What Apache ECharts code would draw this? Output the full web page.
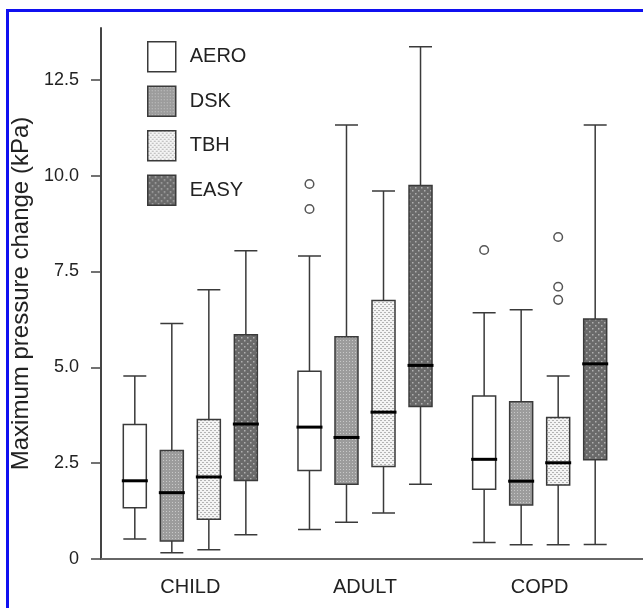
<!DOCTYPE html>
<html><head><meta charset="utf-8">
<script src="https://cdn.jsdelivr.net/npm/echarts@6/dist/echarts.min.js"></script>
<style>html,body{margin:0;padding:0;background:#fff}#c{width:643px;height:608px}</style>
</head><body><div id="c"></div>
<script>
// ---- data ----
const categories = ['CHILD', 'ADULT', 'COPD'];
const seriesNames = ['AERO', 'DSK', 'TBH', 'EASY'];
// [lower whisker, Q1, median, Q3, upper whisker] per category
const aeroBox = [[0.52, 1.34, 2.04, 3.51, 4.77], [0.77, 2.31, 3.44, 4.90, 7.90], [0.43, 1.82, 2.60, 4.25, 6.42]];
const dskBox  = [[0.16, 0.47, 1.73, 2.83, 6.14], [0.96, 1.95, 3.17, 5.80, 11.32], [0.37, 1.41, 2.03, 4.10, 6.50]];
const tbhBox  = [[0.24, 1.04, 2.14, 3.64, 7.02], [1.20, 2.41, 3.83, 6.74, 9.60], [0.37, 1.93, 2.51, 3.69, 4.77]];
const easyBox = [[0.63, 2.05, 3.52, 5.85, 8.04], [1.95, 3.98, 5.05, 9.74, 13.36], [0.38, 2.59, 5.09, 6.26, 11.32]];
const aeroOutliers = [['ADULT', 9.78], ['ADULT', 9.13], ['COPD', 8.06]];
const dskOutliers = [];
const tbhOutliers = [['COPD', 8.40], ['COPD', 7.10], ['COPD', 6.76]];
const easyOutliers = [];
const yTicks = [0, 2.5, 5, 7.5, 10, 12.5];

const boxes = [aeroBox, dskBox, tbhBox, easyBox];
const outliers = [aeroOutliers, dskOutliers, tbhOutliers, easyOutliers];

// ---- fill patterns ----
function makePattern(size, bg, dots, dotColor, dotSize) {
  const c = document.createElement('canvas');
  c.width = c.height = size;
  const g = c.getContext('2d');
  g.fillStyle = bg; g.fillRect(0, 0, size, size);
  g.fillStyle = dotColor;
  dots.forEach(d => g.fillRect(d[0], d[1], dotSize, dotSize));
  return { image: c, repeat: 'repeat' };
}
const fills = [
  '#ffffff',
  makePattern(3, '#9c9c9c', [[1, 1]], '#c8c8c8', 1),
  makePattern(4, '#f4f4f4', [[0, 0], [2, 2], [1, 0], [3, 2]], '#b4b4b4', 1),
  makePattern(6, '#6a6a6a', [[1, 1], [4, 4]], '#b0b0b0', 1.5)
];
const borderColor = '#3a3a3a';

function boxOffset(idx, band, n) {
  const avail = band * 0.8 - 2;
  const gap = avail / n * 0.3;
  const w = (avail - gap * (n - 1)) / n;
  return w / 2 - avail / 2 + idx * (gap + w);
}

const medianData = [];
boxes.forEach((b, s) => b.forEach((row, i) => medianData.push([i, row[2], s])));
const outlierData = [];
outliers.forEach((list, s) => list.forEach(o => outlierData.push([categories.indexOf(o[0]), o[1], s])));

const font = "'Liberation Sans', Arial, sans-serif";

const series = seriesNames.map((name, s) => ({
  name: name,
  type: 'boxplot',
  data: boxes[s],
  boxWidth: [23, 23],
  itemStyle: { color: fills[s], borderColor: borderColor, borderWidth: 1.5 },
  emphasis: { disabled: true },
  z: 2
}));

series.push({
  type: 'custom',
  name: 'median',
  data: medianData,
  encode: { x: 0, y: 1 },
  z: 4,
  renderItem: function (params, api) {
    const p = api.coord([api.value(0), api.value(1)]);
    const band = api.size([1, 0])[0];
    const x = p[0] + boxOffset(api.value(2), band, 4);
    return { type: 'line', shape: { x1: x - 13, y1: p[1], x2: x + 13, y2: p[1] },
      style: { stroke: '#000', lineWidth: 3 } };
  }
});
series.push({
  type: 'custom',
  name: 'outliers',
  data: outlierData,
  encode: { x: 0, y: 1 },
  z: 4,
  renderItem: function (params, api) {
    const p = api.coord([api.value(0), api.value(1)]);
    const band = api.size([1, 0])[0];
    const x = p[0] + boxOffset(api.value(2), band, 4);
    return { type: 'circle', shape: { cx: x, cy: p[1], r: 4.3 },
      style: { fill: '#fff', stroke: '#555', lineWidth: 1.5 } };
  }
});

const chart = echarts.init(document.getElementById('c'));
chart.setOption({
  animation: false,
  backgroundColor: '#fff',
  textStyle: { fontFamily: font },
  graphic: [
    { type: 'line', shape: { x1: 6, y1: 10.5, x2: 643, y2: 10.5 }, style: { stroke: '#1010f0', lineWidth: 3 } },
    { type: 'line', shape: { x1: 7.5, y1: 9, x2: 7.5, y2: 608 }, style: { stroke: '#1010f0', lineWidth: 3 } }
  ],
  legend: {
    orient: 'vertical', left: 147, top: 41, padding: 0,
    itemWidth: 28, itemHeight: 30, itemGap: 13,
    icon: 'rect',
    textStyle: { fontSize: 20, color: '#222', fontFamily: font, padding: [0, 0, 0, 9] },
    data: seriesNames.map((n, s) => ({ name: n, itemStyle: { color: fills[s], borderColor: borderColor, borderWidth: 1.5 } }))
  },
  grid: [
    { left: 103, top: 28, width: 524, bottom: 49 },
    { left: 101, top: 28, right: 0, bottom: 49 }
  ],
  xAxis: [
    { type: 'category', data: categories, gridIndex: 0,
      axisLine: { show: false }, axisTick: { show: false },
      axisLabel: { fontSize: 20, color: '#222', margin: 18, fontFamily: font } },
    { type: 'value', gridIndex: 1, min: 0, max: 1,
      axisLine: { show: true, lineStyle: { color: '#666', width: 2 } },
      axisTick: { show: false }, axisLabel: { show: false }, splitLine: { show: false } }
  ],
  yAxis: [
    { type: 'value', gridIndex: 0, min: 0, max: 13.85, interval: 2.5, offset: 2,
      name: 'Maximum pressure change (kPa)', nameLocation: 'middle', nameGap: 58,
      nameTextStyle: { fontSize: 24, color: '#222', fontFamily: font },
      axisLine: { show: true, lineStyle: { color: '#444', width: 2 } },
      axisTick: { show: true, length: 10, customValues: yTicks, lineStyle: { color: '#444', width: 1.5 } },
      axisLabel: { customValues: yTicks, fontSize: 18, color: '#222', margin: 22, fontFamily: font,
        formatter: v => v === 0 ? '0' : v.toFixed(1) },
      splitLine: { show: false } },
    { type: 'value', gridIndex: 1, show: false, min: 0, max: 1 }
  ],
  series: series
});
</script></body></html>
